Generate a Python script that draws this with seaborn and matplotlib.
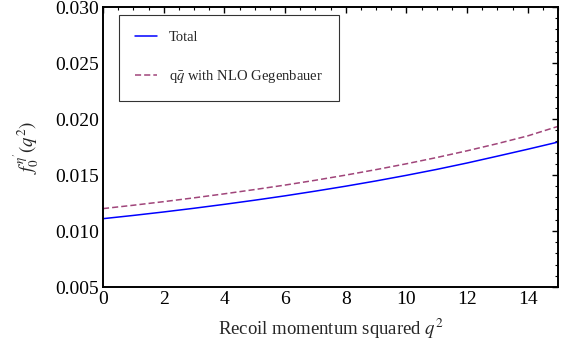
import matplotlib
matplotlib.use("Agg")
import matplotlib.pyplot as plt
import seaborn as sns
import pandas as pd
from matplotlib.ticker import MultipleLocator

q2 = [0, 1, 2, 3, 4, 5, 6, 7, 8, 9, 10, 11, 12, 13, 14, 15]
total = [0.01110, 0.01139, 0.01170, 0.01203, 0.01238, 0.01275, 0.01314, 0.01356,
         0.01400, 0.01447, 0.01497, 0.01550, 0.01607, 0.01668, 0.01730, 0.01794]
qq_nlo = [0.01200, 0.01230, 0.01262, 0.01296, 0.01332, 0.01370, 0.01410, 0.01453,
          0.01499, 0.01548, 0.01600, 0.01656, 0.01716, 0.01780, 0.01849, 0.01934]
labels = ["Total", r"q$\bar{q}$ with NLO Gegenbauer"]
xticks = [0, 2, 4, 6, 8, 10, 12, 14]
yticks = [0.005, 0.010, 0.015, 0.020, 0.025, 0.030]

sns.set_theme(style="white")
plt.rcParams["font.family"] = ["Liberation Serif", "DejaVu Serif"]
plt.rcParams["mathtext.fontset"] = "stix"

df = pd.DataFrame({"q2": q2 * 2,
                   "val": total + qq_nlo,
                   "series": [labels[0]] * len(q2) + [labels[1]] * len(q2)})

fig = plt.figure(figsize=(5.71, 3.55), dpi=100)
ax = fig.add_axes([103 / 571, 1 - 287 / 355, (558 - 103) / 571, (287 - 7) / 355])

sns.lineplot(data=df, x="q2", y="val", hue="series", style="series",
             palette={labels[0]: "#0000ff", labels[1]: "#a0457a"},
             dashes={labels[0]: "", labels[1]: (4, 2)},
             linewidth=1.1, ax=ax, legend=True)

ax.set_xlim(0, 15)
ax.set_ylim(0.005, 0.030)
ax.set_xticks(xticks)
ax.set_yticks(yticks)
ax.set_xticklabels([str(t) for t in xticks])
ax.set_yticklabels([f"{t:.3f}" for t in yticks])
ax.xaxis.set_minor_locator(MultipleLocator(0.5))
ax.yaxis.set_minor_locator(MultipleLocator(0.001))
ax.tick_params(which="both", direction="in", top=True, right=True,
               labelsize=14, colors="black", pad=3)
ax.tick_params(which="major", length=4, width=1)
ax.tick_params(which="minor", length=2.5, width=0.8)
for s in ax.spines.values():
    s.set_color("black")
    s.set_linewidth(1.4)

ax.set_xlabel(r"Recoil momentum squared $q^2$", fontsize=13.5, labelpad=6)
ax.set_ylabel(r"$f_0^{\eta'}(q^2)$", fontsize=13.5, labelpad=10)

leg = ax.legend(title=None, loc="upper left", bbox_to_anchor=(0.035, 0.971),
                fontsize=10.5, frameon=True, fancybox=False, edgecolor="black",
                handlelength=1.5, labelspacing=1.6, borderpad=1.1,
                handletextpad=0.85, borderaxespad=0)
leg.get_frame().set_linewidth(0.8)

fig.savefig("out.png", dpi=100)
